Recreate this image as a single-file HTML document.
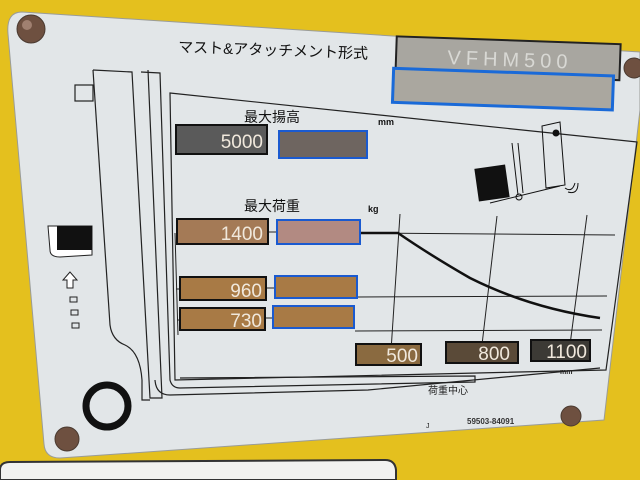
<!DOCTYPE html>
<html><head><meta charset="utf-8"><style>
html,body{margin:0;padding:0;width:640px;height:480px;overflow:hidden;background:#e6c21c}
svg{display:block}
text{font-family:"Liberation Sans","Noto Sans CJK JP",sans-serif}
</style></head><body>
<svg width="640" height="480" viewBox="0 0 640 480" xmlns="http://www.w3.org/2000/svg">
<rect width="640" height="480" fill="#e4c01e"/>
<!-- plate -->
<path d="M22 12 L640 52 L640 110 L604 420 L60 458 Q45 458 44 444 L8 34 Q6 12 22 12 Z" fill="#e2e6e8" stroke="#9a9c98" stroke-width="1"/>
<!-- bottom white label -->
<path d="M0 470 Q0 462 10 462 L385 460 Q395 460 396 470 L396 480 L0 480 Z" fill="#f2f2f0" stroke="#333" stroke-width="2"/>
<!-- rivets -->
<g fill="#6e5040" stroke="#4a3a30">
<circle cx="31" cy="29" r="14"/><circle cx="634" cy="68" r="10"/>
<circle cx="67" cy="439" r="12"/><circle cx="571" cy="416" r="10"/>
</g>
<circle cx="27" cy="25" r="5" fill="#a08070"/>
<!-- header -->
<text x="178" y="52" font-size="15" fill="#111" transform="rotate(2 178 52)">マスト&amp;アタッチメント形式</text>
<g transform="rotate(2 500 60)">
<rect x="396" y="40" width="224" height="36" fill="#a8a6a0" stroke="#222" stroke-width="2"/>
<text x="510" y="66" font-size="20" fill="#d8d8d4" text-anchor="middle" letter-spacing="5">VFHM500</text>
<rect x="394" y="72" width="220" height="34" fill="#aaa79f" stroke="#1a6ad8" stroke-width="3"/>
</g>
<!-- left mast -->
<g fill="none" stroke="#222" stroke-width="1.2">
<path d="M93 70 L132 72 L150 398 L162 398 L148 70"/>
<path d="M93 70 L110 325 Q112 340 125 345 Q140 352 142 380 L142 400 L150 400"/>
<rect x="75" y="85" width="18" height="16"/>
<path d="M141 72 L160 73 L170 380 Q172 388 180 388 L475 382 L475 376 L180 378"/>
<path d="M155 380 Q156 395 170 395 L368 390 L600 368"/>
</g>
<!-- inner frame -->
<path d="M170 93 L637 142 L606 370 L175 380 Z" fill="none" stroke="#222" stroke-width="1.2"/>
<!-- load icon -->
<path d="M48 226 L92 226 L92 255 L60 257 Q50 257 50 250 Z" fill="#fff" stroke="#222"/>
<rect x="57" y="226" width="35" height="24" fill="#111"/>
<path d="M70 272 L63 280 L67 280 L67 288 L73 288 L73 280 L77 280 Z" fill="#fff" stroke="#222"/>
<g fill="none" stroke="#222"><rect x="70" y="297" width="7" height="5"/><rect x="71" y="310" width="7" height="5"/><rect x="72" y="323" width="7" height="5"/></g>
<circle cx="107" cy="406" r="21" fill="none" stroke="#111" stroke-width="7"/>
<!-- labels -->
<text x="244" y="122" font-size="14" fill="#111">最大揚高</text>
<text x="378" y="125" font-size="9" font-weight="bold" fill="#111">mm</text>
<text x="244" y="211" font-size="14" fill="#111">最大荷重</text>
<text x="368" y="212" font-size="9" font-weight="bold" fill="#111">kg</text>
<!-- grid -->
<g stroke="#222" stroke-width="1" fill="none">
<path d="M360 233 L615 235"/>
<path d="M357 297 L607 296"/>
<path d="M355 331 L602 330"/>
<path d="M400 214 L390 366"/><path d="M497 216 L480 362"/><path d="M587 215 L568 360"/>
<path d="M175 233 L178 335 M176 289 L180 289 M177 320 L180 320 M268 232 L278 232 M266 288 L274 288 M265 318 L273 318"/>
</g>
<path d="M360 233 L398 233 Q430 255 470 278 Q530 308 600 318" fill="none" stroke="#111" stroke-width="2.5"/>
<!-- value boxes -->
<g stroke-width="2">
<rect x="176" y="125" width="91" height="29" fill="#5a5a5a" stroke="#111"/>
<rect x="279" y="131" width="88" height="27" fill="#6e6560" stroke="#1a5ad0"/>
<rect x="177" y="219" width="91" height="25" fill="#a47a56" stroke="#111"/>
<rect x="277" y="220" width="83" height="24" fill="#b28a82" stroke="#1a5ad0"/>
<rect x="180" y="277" width="86" height="23" fill="#a87a45" stroke="#111"/>
<rect x="275" y="276" width="82" height="22" fill="#a87a45" stroke="#1a5ad0"/>
<rect x="180" y="308" width="85" height="22" fill="#a87a45" stroke="#111"/>
<rect x="273" y="306" width="81" height="22" fill="#a87a45" stroke="#1a5ad0"/>
<rect x="356" y="344" width="65" height="21" fill="#8a6a40" stroke="#111"/>
<rect x="446" y="342" width="72" height="21" fill="#5a4a38" stroke="#111"/>
<rect x="531" y="340" width="59" height="21" fill="#3c3a35" stroke="#111"/>
</g>
<g font-size="19" fill="#f0e8dc" text-anchor="end">
<text x="263" y="148">5000</text>
<text x="263" y="240">1400</text>
<text x="262" y="297">960</text>
<text x="262" y="327">730</text>
<text x="418" y="362">500</text>
<text x="510" y="360">800</text>
<text x="587" y="358">1100</text>
</g>
<text x="428" y="394" font-size="10" fill="#222">荷重中心</text>
<text x="560" y="374" font-size="7" font-weight="bold" fill="#222">mm</text>
<text x="426" y="428" font-size="7" fill="#222">J</text>
<text x="467" y="424" font-size="8" font-weight="bold" fill="#333">59503-84091</text>
<!-- forklift icon -->
<g stroke="#111" fill="none" stroke-width="1">
<rect x="477" y="167" width="30" height="32" fill="#111" transform="rotate(-8 492 183)"/>
<path d="M490 203 L560 186 M512 143 L518 195 M518 143 L523 193"/>
<circle cx="519" cy="197" r="3"/>
<path d="M542 126 L560 122 L565 185 L546 188 Z"/>
<circle cx="556" cy="133" r="3" fill="#111"/>
<path d="M565 188 Q572 193 575 183 M568 192 Q578 195 578 183"/>
</g>
</svg>
</body></html>
